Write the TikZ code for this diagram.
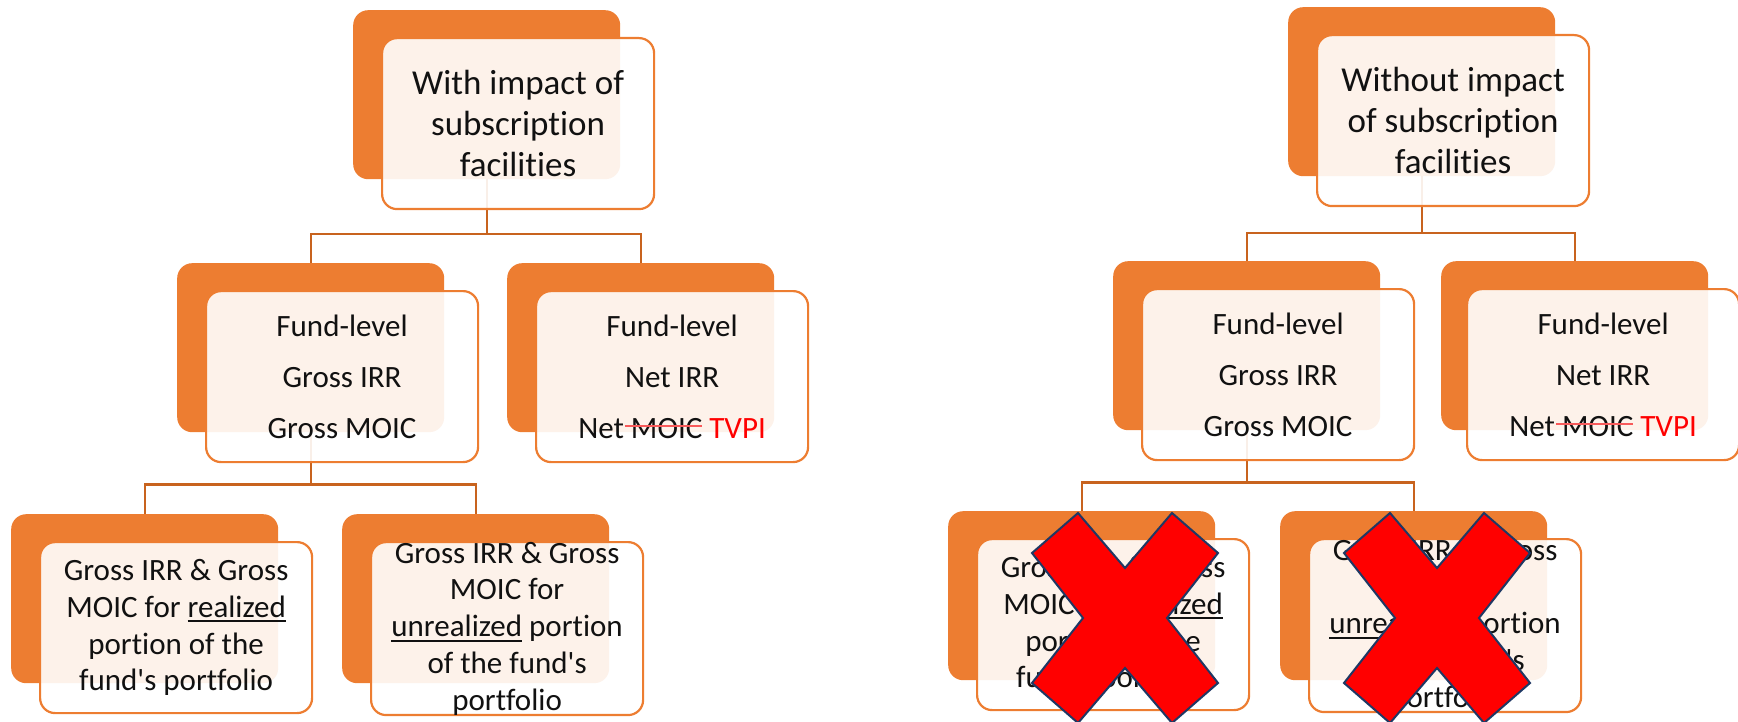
\documentclass[tikz,border=0pt]{standalone}
\usepackage{fontspec}
\setmainfont{Carlito}[Ligatures={TeXOff,NoCommon}]
\usetikzlibrary{calc}
\definecolor{orng}{HTML}{ED7D31}
\definecolor{conncol}{HTML}{C8631E}
\definecolor{strikered}{HTML}{F85A5A}
\definecolor{xnavy}{HTML}{1F3864}
\definecolor{xred}{HTML}{FF0000}
\definecolor{txt}{HTML}{111111}
\newlength\strkw
\newcommand\redstrike[1]{\settowidth{\strkw}{#1}\addtolength{\strkw}{0.2em}#1\llap{\textcolor{strikered}{\rule[0.35em]{\strkw}{2pt}}}}
\newcommand\ul[1]{\settowidth{\strkw}{#1}#1\llap{\rule[-0.16em]{\strkw}{2pt}}}
\tikzset{
  backbox/.style={fill=orng, rounded corners=15pt, minimum width=267pt, minimum height=169pt, anchor=north west, inner sep=0pt},
  frontbox/.style={draw=orng, line width=2.2pt, fill=white, fill opacity=0.9, text opacity=1, rounded corners=15pt, minimum width=272pt, minimum height=171pt, anchor=north west, inner sep=0pt, align=center, text=txt},
  titletext/.style={font=\fontsize{35}{41}\selectfont},
  midtext/.style={font=\fontsize{31}{51}\selectfont},
  bottext/.style={font=\fontsize{31}{36.7}\selectfont},
  conn/.style={draw=conncol, line width=2.2pt},
  xmark/.style={fill=xred, draw=xnavy, line width=2pt, line join=miter}
}
\begin{document}
\begin{tikzpicture}[x=1pt,y=-1pt]
\useasboundingbox (0,0) rectangle (1738,722);
% back boxes
\node[backbox] (t1b) at (353,10) {};
\node[backbox] (m1b) at (177,263) {};
\node[backbox] (m2b) at (507,263) {};
\node[backbox] (b1b) at (11,514) {};
\node[backbox] (b2b) at (342,514) {};
\node[backbox] (t2b) at (1288,7) {};
\node[backbox] (m3b) at (1113,261) {};
\node[backbox] (m4b) at (1441,261) {};
\node[backbox] (b3b) at (948,511) {};
\node[backbox] (b4b) at (1280,511) {};
% connectors
\draw[conn] (t1b.south) -- ++(0,55) coordinate (j1);
\draw[conn] (m1b.north) |- (j1) -| (m2b.north);
\draw[conn] (m1b.south) -- ++(0,52) coordinate (j2);
\draw[conn] (b1b.north) |- (j2) -| (b2b.north);
\draw[conn] (t2b.south) -- ++(0,57) coordinate (j3);
\draw[conn] (m3b.north) |- (j3) -| (m4b.north);
\draw[conn] (m3b.south) -- ++(0,52) coordinate (j4);
\draw[conn] (b3b.north) |- (j4) -| (b4b.north);
% front boxes
\node[frontbox, titletext] (t1) at (381,37) {With impact of\\subscription\\facilities};
\node[frontbox, midtext] (m1) at (205,290) {Fund-level\\Gross IRR\\Gross MOIC};
\node[frontbox, midtext] (m2) at (535,290) {Fund-level\\Net IRR\\Net \redstrike{MOIC} \textcolor{red}{TVPI}};
\node[frontbox, bottext] (b1) at (39,541) {Gross IRR \& Gross\\MOIC for \ul{realized}\\portion of the\\fund's portfolio};
\node[frontbox, bottext] (b2) at (370,541) {Gross IRR \& Gross\\MOIC for\\\ul{unrealized} portion\\of the fund's\\portfolio};
\node[frontbox, titletext] (t2) at (1316,34) {Without impact\\of subscription\\facilities};
\node[frontbox, midtext] (m3) at (1141,288) {Fund-level\\Gross IRR\\Gross MOIC};
\node[frontbox, midtext] (m4) at (1466,288) {Fund-level\\Net IRR\\Net \redstrike{MOIC} \textcolor{red}{TVPI}};
\node[frontbox, bottext] (b3) at (976,538) {Gross IRR \& Gross\\MOIC for \ul{realized}\\portion of the\\fund's portfolio};
\node[frontbox, bottext] (b4) at (1308,538) {Gross IRR \& Gross\\MOIC for\\\ul{unrealized} portion\\of the fund's\\portfolio};
% red crosses
\foreach \cx in {1125,1437}{
  \draw[xmark, shift={(\cx,618)}] (-93,-65) -- (-47,-105) -- (0,-50) -- (47,-105) -- (93,-65) -- (42,0) -- (93,65) -- (47,105) -- (0,50) -- (-47,105) -- (-93,65) -- (-42,0) -- cycle;
}
\end{tikzpicture}
\end{document}
